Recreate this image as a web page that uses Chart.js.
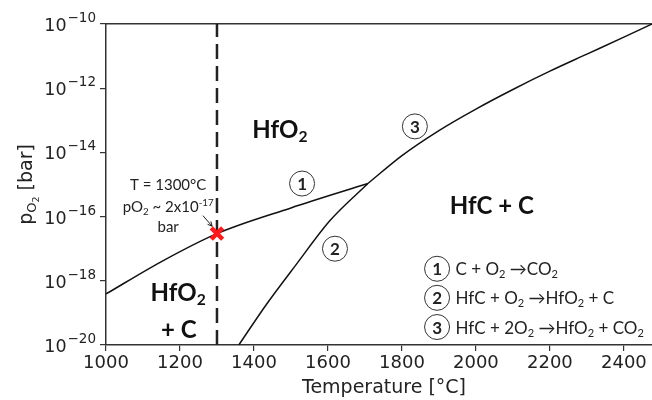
<!DOCTYPE html>
<html>
<head>
<meta charset="utf-8">
<script src="https://cdn.jsdelivr.net/npm/chart.js@4.4.0/dist/chart.umd.min.js"></script>
<style>
  html, body { margin: 0; padding: 0; background: #fff; }
</style>
</head>
<body>
<canvas id="phaseChart" width="652" height="400"></canvas>
<script>
// values: temperature in °C, pO2 as log10(bar)
const curve1T = [1000, 1150, 1300, 1500, 1708];
const curve1LogP = [-18.41, -17.4, -16.53, -15.73, -14.97];
const curve2T = [1359, 1434, 1515, 1605, 1708];
const curve2LogP = [-20, -18.73, -17.48, -16.13, -14.97];
const curve3T = [1708, 1800, 1900, 2000, 2100, 2200, 2300, 2400, 2476];
const curve3LogP = [-14.97, -14.10, -13.32, -12.65, -12.04, -11.47, -10.94, -10.41, -10.0];
const markerT = [1300];
const markerLogP = [-16.53];
const dashT = [1300, 1300];
const dashLogP = [-20, -10];
const xTicks = [1000, 1200, 1400, 1600, 1800, 2000, 2200, 2400];
const yTickExps = [-20, -18, -16, -14, -12, -10];

const toPoints = (xs, ys) => xs.map((x, i) => ({ x: x, y: Math.pow(10, ys[i]) }));

const INK = '#222';
const TEXT_FONT = 'Lato, "Open Sans", sans-serif';

// text with sub/superscript pieces: [text, mode] mode 0 normal, 1 sub, 2 sup
function drawRich(ctx, parts, x, y, size, weight, align) {
    const pieceFont = m => `${weight} ${m === 0 ? size : size * 0.65}px ${TEXT_FONT}`;
    let total = 0;
    parts.forEach(p => { ctx.font = pieceFont(p[1]); total += ctx.measureText(p[0]).width; });
    let cx = align === 'center' ? x - total / 2 : x;
    ctx.textAlign = 'left';
    ctx.textBaseline = 'middle';
    parts.forEach(p => {
        ctx.font = pieceFont(p[1]);
        const dy = p[1] === 1 ? size * 0.3 : (p[1] === 2 ? -size * 0.32 : 0);
        ctx.fillText(p[0], cx, y + dy);
        cx += ctx.measureText(p[0]).width;
    });
}

function circledNum(ctx, n, x, y) {
    ctx.beginPath();
    ctx.arc(x, y, 12.5, 0, Math.PI * 2);
    ctx.lineWidth = 1;
    ctx.strokeStyle = '#333';
    ctx.stroke();
    ctx.fillStyle = INK;
    ctx.font = `bold 17px ${TEXT_FONT}`;
    ctx.textAlign = 'center';
    ctx.textBaseline = 'middle';
    ctx.fillText(String(n), x, y + 1);
}

const labelPlugin = {
    id: 'phaseLabels',
    afterDraw(chart) {
        const ctx = chart.ctx;
        const px = v => chart.scales.x.getPixelForValue(v);
        const py = e => chart.scales.y.getPixelForValue(Math.pow(10, e));
        ctx.save();

        // y tick labels, 10 with a raised exponent
        ctx.fillStyle = INK;
        ctx.textBaseline = 'alphabetic';
        ctx.textAlign = 'right';
        yTickExps.forEach(e => {
            const y = py(e);
            const expText = '\u2212' + String(Math.abs(e));
            ctx.font = '13.5px "DejaVu Sans"';
            const ew = ctx.measureText(expText).width;
            ctx.fillText(expText, 96, y - 2);
            ctx.font = '17.5px "DejaVu Sans"';
            ctx.fillText('10', 96 - ew - 1, y + 7);
        });

        ctx.fillStyle = '#111';
        // phase regions
        drawRich(ctx, [['HfO', 0], ['2', 1]], px(1470), py(-13.3), 24, 'bold', 'center');
        drawRich(ctx, [['HfC + C', 0]], px(2043), py(-15.69), 24, 'bold', 'center');
        drawRich(ctx, [['HfO', 0], ['2', 1]], px(1195), py(-18.375), 24, 'bold', 'center');
        drawRich(ctx, [['+ C', 0]], px(1197), py(-19.53), 24, 'bold', 'center');

        // reaction numbers on curves
        circledNum(ctx, 1, px(1530), py(-14.97));
        circledNum(ctx, 2, px(1619), py(-17.0));
        circledNum(ctx, 3, px(1835), py(-13.19));

        // key
        const rows = [
            [['C + O', 0], ['2', 1], [' \u2192CO', 0], ['2', 1]],
            [['HfC + O', 0], ['2', 1], [' \u2192HfO', 0], ['2', 1], [' + C', 0]],
            [['HfC + 2O', 0], ['2', 1], [' \u2192HfO', 0], ['2', 1], [' + CO', 0], ['2', 1]]
        ];
        const rowExp = [-17.625, -18.53, -19.44];
        rows.forEach((r, i) => {
            circledNum(ctx, i + 1, px(1895), py(rowExp[i]));
            ctx.fillStyle = INK;
            drawRich(ctx, r, px(1945), py(rowExp[i]) + 1, 17, 'normal', 'left');
        });

        // note at the marker
        ctx.fillStyle = INK;
        drawRich(ctx, [['T = 1300\u00B0C', 0]], px(1168), py(-15.03), 15, 'normal', 'center');
        drawRich(ctx, [['pO', 0], ['2', 1], [' ~ 2x10', 0], ['-17', 2]], px(1168), py(-15.72), 15, 'normal', 'center');
        drawRich(ctx, [['bar', 0]], px(1168), py(-16.34), 15, 'normal', 'center');
        const ax0 = px(1262), ay0 = py(-15.97), ax1 = px(1287), ay1 = py(-16.3);
        ctx.strokeStyle = INK;
        ctx.lineWidth = 1;
        ctx.beginPath();
        ctx.moveTo(ax0, ay0);
        ctx.lineTo(ax1, ay1);
        const ang = Math.atan2(ay1 - ay0, ax1 - ax0);
        ctx.moveTo(ax1 - 5 * Math.cos(ang - 0.45), ay1 - 5 * Math.sin(ang - 0.45));
        ctx.lineTo(ax1, ay1);
        ctx.lineTo(ax1 - 5 * Math.cos(ang + 0.45), ay1 - 5 * Math.sin(ang + 0.45));
        ctx.stroke();

        // axis titles
        ctx.fillStyle = INK;
        ctx.font = '19px "DejaVu Sans"';
        ctx.textAlign = 'center';
        ctx.textBaseline = 'middle';
        ctx.fillText('Temperature [\u00B0C]', 384, 388);

        ctx.translate(25, (chart.chartArea.top + chart.chartArea.bottom) / 2);
        ctx.rotate(-Math.PI / 2);
        const parts = [['p', 19], ['O', 13], ['2', 9.5], [' [bar]', 19]];
        let w = 0;
        parts.forEach(p => { ctx.font = `${p[1]}px "DejaVu Sans"`; w += ctx.measureText(p[0]).width; });
        let cx = -w / 2;
        ctx.textAlign = 'left';
        ctx.textBaseline = 'alphabetic';
        const dys = [0, 4, 7, 0];
        parts.forEach((p, i) => {
            ctx.font = `${p[1]}px "DejaVu Sans"`;
            ctx.fillText(p[0], cx, 7 + dys[i]);
            cx += ctx.measureText(p[0]).width;
        });
        ctx.restore();
    }
};

const lineStyle = { showLine: true, borderColor: '#111', borderWidth: 1.5, pointRadius: 0,
    cubicInterpolationMode: 'monotone', fill: false };

new Chart(document.getElementById('phaseChart').getContext('2d'), {
    type: 'scatter',
    data: {
        datasets: [
            { label: 'T = 1300°C', data: toPoints(markerT, markerLogP), pointStyle: 'crossRot',
              pointRadius: 8, borderWidth: 4.5, borderColor: '#ff1a1a', backgroundColor: '#ff1a1a' },
            Object.assign({ label: 'C + O2 -> CO2', data: toPoints(curve1T, curve1LogP) }, lineStyle),
            Object.assign({ label: 'HfC + O2 -> HfO2 + C', data: toPoints(curve2T, curve2LogP) }, lineStyle),
            Object.assign({ label: 'HfC + 2O2 -> HfO2 + CO2', data: toPoints(curve3T, curve3LogP) }, lineStyle),
            { label: '1300', data: toPoints(dashT, dashLogP), showLine: true, borderColor: '#222',
              borderWidth: 2.5, borderDash: [15, 7], pointRadius: 0 }
        ]
    },
    options: {
        responsive: false,
        animation: false,
        devicePixelRatio: 1,
        layout: { autoPadding: false, padding: { top: 24, left: 0, right: 0, bottom: 0 } },
        plugins: { legend: { display: false }, tooltip: { enabled: false } },
        scales: {
            x: {
                type: 'linear', min: 1000, max: 2476,
                afterBuildTicks: s => { s.ticks = xTicks.map(v => ({ value: v })); },
                afterFit: s => { s.height = 55; s.paddingLeft = 0; s.paddingRight = 0; },
                ticks: { color: INK, font: { family: 'DejaVu Sans', size: 18 }, padding: 2, maxRotation: 0,
                    callback: v => String(v) },
                grid: { drawOnChartArea: false, tickLength: 6, color: '#333', lineWidth: 1.2 },
                border: { color: '#333', width: 1.5 }
            },
            xTop: {
                type: 'linear', position: 'top', min: 1000, max: 2476,
                afterFit: s => { s.height = 0; s.paddingLeft = 0; s.paddingRight = 0; },
                ticks: { display: false },
                grid: { display: false, drawTicks: false },
                border: { display: true, color: '#333', width: 1.5 }
            },
            y: {
                type: 'logarithmic', min: 1e-20, max: 1e-10,
                afterBuildTicks: s => { s.ticks = yTickExps.map(e => ({ value: Math.pow(10, e) })); },
                afterFit: s => { s.width = 106; },
                ticks: { display: false },
                grid: { drawOnChartArea: false, tickLength: 6, color: '#333', lineWidth: 1.2 },
                border: { color: '#333', width: 1.5 }
            }
        }
    },
    plugins: [labelPlugin]
});
</script>
</body>
</html>
